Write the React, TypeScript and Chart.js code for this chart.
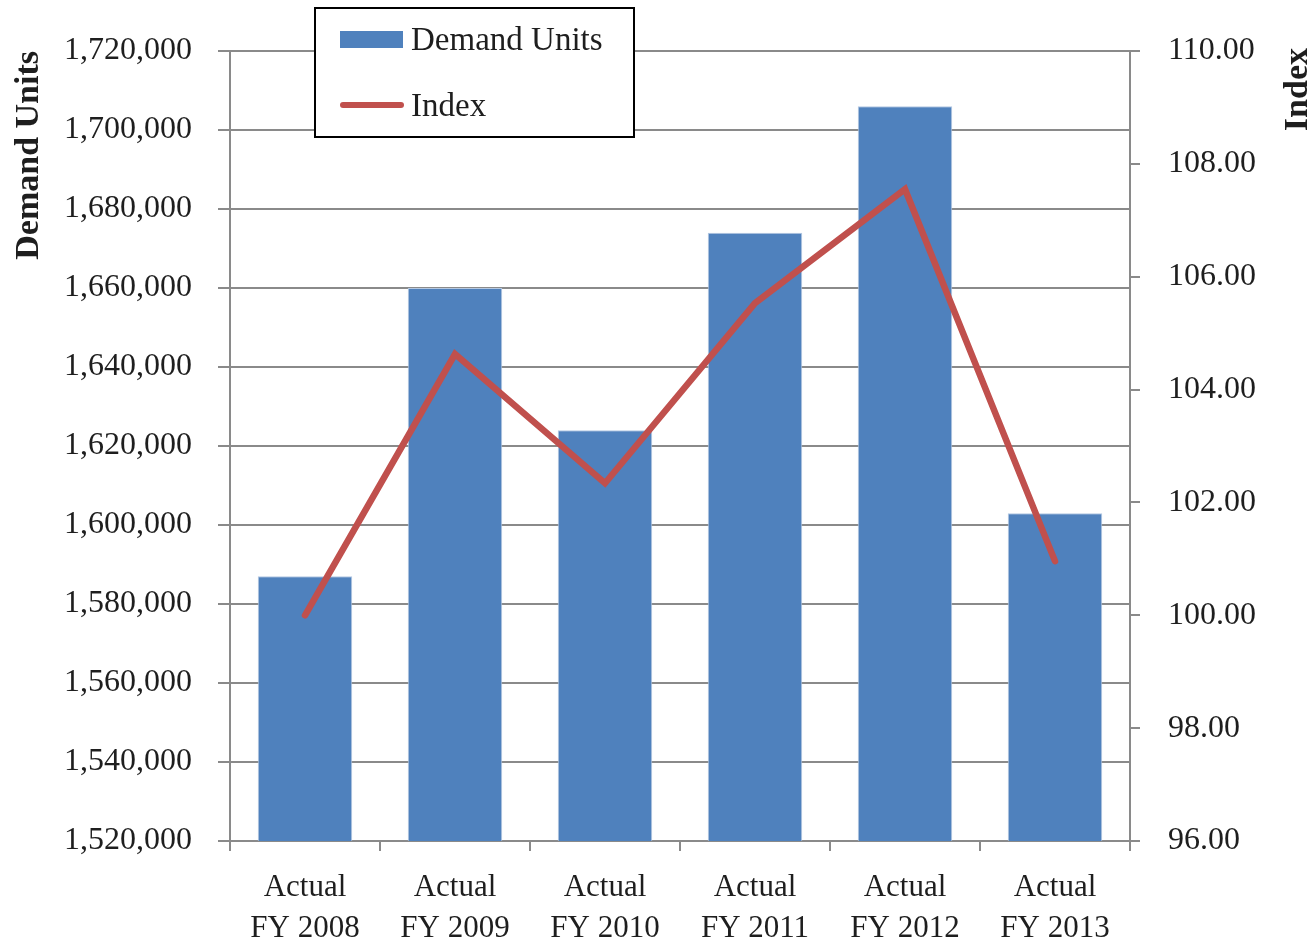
import { useEffect, useRef } from 'react';
import { Chart, registerables } from 'chart.js';

Chart.register(...registerables);

// Fiscal years shown on the category axis (two-line labels)
const categories: string[][] = [
  ['Actual', 'FY 2008'],
  ['Actual', 'FY 2009'],
  ['Actual', 'FY 2010'],
  ['Actual', 'FY 2011'],
  ['Actual', 'FY 2012'],
  ['Actual', 'FY 2013'],
];

// Demand units per fiscal year (left axis)
const demandUnits: number[] = [1587000, 1660000, 1624000, 1674000, 1706000, 1603000];

// Index relative to FY 2008 = 100 (right axis)
const indexValues: number[] = [100.0, 104.63, 102.34, 105.53, 107.55, 100.96];

// Axis ranges
const unitsRange = { min: 1520000, max: 1720000, step: 20000 };
const indexRange = { min: 96, max: 110, step: 2 };

const FONT = "'Liberation Serif', 'Times New Roman', serif";
const TEXT = '#1e1e1e';
const GRID = '#8a8a8a';
const BAR = '#4F81BD';
const LINE = '#C0504D';

// Boxed legend floating over the top of the plot area
const boxedLegend = {
  id: 'boxedLegend',
  afterDraw(chart: any) {
    const { ctx, chartArea } = chart;
    const x = chartArea.left + 85;
    const y = 8;
    const w = 319;
    const h = 129;
    ctx.save();
    ctx.fillStyle = '#ffffff';
    ctx.fillRect(x, y, w, h);
    ctx.strokeStyle = '#000000';
    ctx.lineWidth = 2;
    ctx.strokeRect(x, y, w, h);

    const ds = chart.data.datasets;
    ctx.font = `33px ${FONT}`;
    ctx.textBaseline = 'middle';
    ctx.textAlign = 'left';

    // bar swatch
    ctx.fillStyle = ds[0].backgroundColor;
    ctx.fillRect(x + 25, y + 23, 63, 17);
    ctx.fillStyle = TEXT;
    ctx.fillText(ds[0].label, x + 96, y + 33);

    // line swatch
    ctx.strokeStyle = ds[1].borderColor;
    ctx.lineWidth = 6;
    ctx.lineCap = 'round';
    ctx.beginPath();
    ctx.moveTo(x + 28, y + 97);
    ctx.lineTo(x + 86, y + 97);
    ctx.stroke();
    ctx.fillText(ds[1].label, x + 96, y + 99);
    ctx.restore();
  },
};

// Right-hand axis title, reading bottom-to-top like the left one
const rightTitle = {
  id: 'rightTitle',
  afterDraw(chart: any) {
    const { ctx, chartArea } = chart;
    ctx.save();
    ctx.translate(chart.width - 16, chartArea.top - 3);
    ctx.rotate(-Math.PI / 2);
    ctx.font = `bold 34px ${FONT}`;
    ctx.fillStyle = TEXT;
    ctx.textAlign = 'right';
    ctx.textBaseline = 'middle';
    ctx.fillText('Index', 0, 0);
    ctx.restore();
  },
};

export default function App() {
  const canvasRef = useRef<HTMLCanvasElement | null>(null);

  useEffect(() => {
    if (!canvasRef.current) return;
    const chart = new Chart(canvasRef.current, {
      type: 'bar',
      data: {
        labels: categories,
        datasets: [
          {
            type: 'bar',
            label: 'Demand Units',
            data: demandUnits,
            backgroundColor: BAR,
            borderColor: '#B4C8E2',
            borderWidth: 1,
            yAxisID: 'y',
            order: 2,
            categoryPercentage: 1,
            barPercentage: 0.63,
          },
          {
            type: 'line',
            label: 'Index',
            data: indexValues,
            borderColor: LINE,
            backgroundColor: LINE,
            borderWidth: 6.5,
            borderCapStyle: 'round',
            borderJoinStyle: 'miter',
            pointRadius: 0,
            tension: 0,
            yAxisID: 'y1',
            order: 1,
          },
        ] as any,
      },
      options: {
        animation: false,
        responsive: true,
        maintainAspectRatio: false,
        layout: { padding: { top: 51, left: 0, right: 0, bottom: 0 } },
        plugins: {
          legend: { display: false },
          tooltip: { enabled: false },
        },
        scales: {
          x: {
            grid: {
              offset: true,
              drawOnChartArea: false,
              drawTicks: true,
              tickLength: 10,
              color: GRID,
              lineWidth: 2,
            },
            border: { color: GRID, width: 2 },
            ticks: {
              color: TEXT,
              font: { family: FONT, size: 31, lineHeight: 1.3 },
              padding: 17,
              maxRotation: 0,
              autoSkip: false,
            },
            afterFit: (scale: any) => {
              scale.height = 100;
            },
          },
          y: {
            position: 'left',
            min: unitsRange.min,
            max: unitsRange.max,
            grid: {
              color: GRID,
              lineWidth: 2,
              drawTicks: true,
              tickLength: 12,
            },
            border: { color: GRID, width: 2 },
            ticks: {
              stepSize: unitsRange.step,
              color: TEXT,
              font: { family: FONT, size: 32 },
              padding: 26,
              callback: (v: any) => Number(v).toLocaleString('en-US'),
            },
            title: {
              display: true,
              text: 'Demand Units',
              align: 'end',
              color: TEXT,
              font: { family: FONT, size: 34, weight: 'bold' },
              padding: { top: 9, bottom: 0 },
            },
            afterFit: (scale: any) => {
              scale.width = 230;
            },
          },
          y1: {
            position: 'right',
            min: indexRange.min,
            max: indexRange.max,
            grid: {
              drawOnChartArea: false,
              color: GRID,
              lineWidth: 2,
              drawTicks: true,
              tickLength: 10,
            },
            border: { color: GRID, width: 2 },
            ticks: {
              stepSize: indexRange.step,
              color: TEXT,
              font: { family: FONT, size: 32 },
              padding: 28,
              callback: (v: any) => Number(v).toFixed(2),
            },
            afterFit: (scale: any) => {
              scale.width = 184;
            },
          },
        },
      } as any,
      plugins: [boxedLegend, rightTitle],
    });
    return () => chart.destroy();
  }, []);

  return (
    <div style={{ position: 'absolute', left: 0, top: 0, width: 1314, height: 941, background: '#fff' }}>
      <canvas ref={canvasRef} />
    </div>
  );
}
